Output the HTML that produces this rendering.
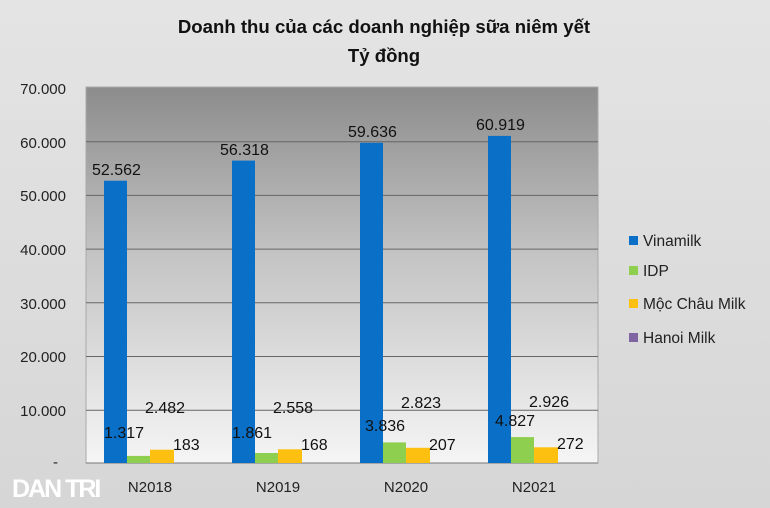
<!DOCTYPE html>
<html><head><meta charset="utf-8"><style>
html,body{margin:0;padding:0;background:#dcdcdc;}
svg{display:block;font-family:"Liberation Sans","DejaVu Sans",sans-serif;}
</style></head><body>
<svg width="770" height="508" viewBox="0 0 770 508">
<defs>
<linearGradient id="bg" x1="0" y1="0" x2="0" y2="1">
<stop offset="0" stop-color="#e4e4e4"/><stop offset="1" stop-color="#d6d6d6"/></linearGradient>
<linearGradient id="pl" x1="0" y1="0" x2="0" y2="1">
<stop offset="0" stop-color="#8c8c8c"/><stop offset="0.45" stop-color="#c4c4c4"/><stop offset="1" stop-color="#f5f5f5"/></linearGradient>
</defs>
<rect width="770" height="508" fill="url(#bg)"/>
<text x="384" y="33" text-anchor="middle" font-size="18.6" font-weight="bold" fill="#111">Doanh thu của các doanh nghiệp sữa niêm yết</text>
<text x="384" y="62" text-anchor="middle" font-size="18.6" font-weight="bold" fill="#111">Tỷ đồng</text>
<rect x="86" y="87" width="512" height="376" fill="url(#pl)" stroke="#aaa" stroke-width="1"/>
<g stroke="#666" stroke-width="1">
<line x1="86" y1="141.7" x2="598" y2="141.7"/><line x1="86" y1="195.4" x2="598" y2="195.4"/>
<line x1="86" y1="249.1" x2="598" y2="249.1"/><line x1="86" y1="302.8" x2="598" y2="302.8"/>
<line x1="86" y1="356.5" x2="598" y2="356.5"/><line x1="86" y1="410.2" x2="598" y2="410.2"/>
<line x1="86" y1="463" x2="598" y2="463" stroke="#777"/>
</g>
<g font-size="15" fill="#222" text-anchor="end">
<text x="66" y="94">70.000</text><text x="66" y="148">60.000</text><text x="66" y="201">50.000</text>
<text x="66" y="255">40.000</text><text x="66" y="309">30.000</text><text x="66" y="362">20.000</text>
<text x="66" y="416">10.000</text><text x="58" y="467">-</text>
</g>
<g fill="#0a6fc6">
<rect x="104" y="180.7" width="23" height="282.3"/>
<rect x="232" y="160.6" width="23" height="302.4"/>
<rect x="360" y="142.8" width="23" height="320.2"/>
<rect x="488" y="135.9" width="23" height="327.1"/>
</g>
<g fill="#8fcf4f">
<rect x="127" y="455.9" width="23" height="7.1"/>
<rect x="255" y="453" width="23" height="10"/>
<rect x="383" y="442.4" width="23" height="20.6"/>
<rect x="511" y="437.1" width="23" height="25.9"/>
</g>
<g fill="#fdbf10">
<rect x="150" y="449.7" width="24" height="13.3"/>
<rect x="278" y="449.3" width="24" height="13.7"/>
<rect x="406" y="447.8" width="24" height="15.2"/>
<rect x="534" y="447.3" width="24" height="15.7"/>
</g>
<g font-size="16" fill="#111">
<text x="92" y="175">52.562</text><text x="220" y="155">56.318</text>
<text x="348" y="137">59.636</text><text x="476" y="130">60.919</text>
<text x="145" y="413">2.482</text><text x="273" y="413">2.558</text>
<text x="401" y="408">2.823</text><text x="529" y="407">2.926</text>
<text x="104" y="438">1.317</text><text x="232" y="438">1.861</text>
<text x="365" y="431">3.836</text><text x="495" y="426">4.827</text>
<text x="173" y="450">183</text><text x="301" y="450">168</text>
<text x="429" y="450">207</text><text x="557" y="449">272</text>
</g>
<g font-size="15" fill="#222" text-anchor="middle">
<text x="150" y="492">N2018</text><text x="278" y="492">N2019</text>
<text x="406" y="492">N2020</text><text x="534" y="492">N2021</text>
</g>
<g font-size="15.5" fill="#222">
<rect x="629" y="236" width="9" height="9" fill="#0a6fc6"/><text x="643" y="246">Vinamilk</text>
<rect x="629" y="266" width="9" height="9" fill="#8fcf4f"/><text x="643" y="276">IDP</text>
<rect x="629" y="299" width="9" height="9" fill="#fdbf10"/><text x="643" y="309">Mộc Châu Milk</text>
<rect x="629" y="333" width="9" height="9" fill="#8064a2"/><text x="643" y="343">Hanoi Milk</text>
</g>
<text x="12" y="497" font-size="25" font-weight="bold" fill="#fff" letter-spacing="-2">DAN TRI</text>
</svg>
</body></html>
